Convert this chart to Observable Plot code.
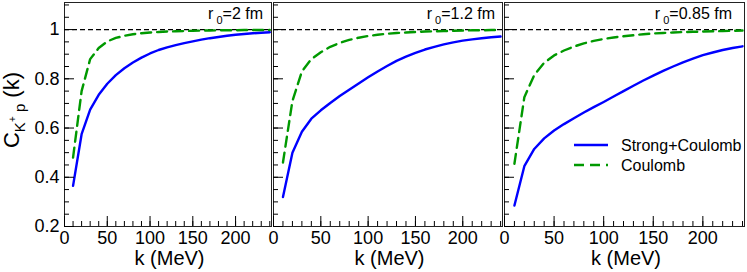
<!DOCTYPE html>
<html>
<head>
<meta charset="utf-8">
<script src="https://cdn.jsdelivr.net/npm/d3@7"></script>
<script src="https://cdn.jsdelivr.net/npm/@observablehq/plot@0.6"></script>
<style>
  body { margin: 0; background: #fff; }
  #chart { position: relative; width: 747px; height: 272px; font-family: "Liberation Sans", Arial, sans-serif; }
  #chart svg { position: absolute; top: 0; overflow: visible; background: transparent; }
</style>
</head>
<body>
<div id="chart"></div>
<script>
// ---- data ----
const k = [10,20,30,40,50,60,70,80,90,100,110,120,130,140,150,160,170,180,190,200,210,220,230,240];

const strongCoulomb_r2 = [0.365,0.575,0.675,0.735,0.78,0.815,0.843,0.866,0.886,0.903,0.917,0.928,0.937,0.945,0.952,0.959,0.965,0.97,0.975,0.979,0.982,0.985,0.987,0.989];
const coulomb_r2       = [0.48,0.75,0.88,0.925,0.952,0.966,0.975,0.981,0.985,0.988,0.99,0.992,0.993,0.994,0.995,0.996,0.996,0.997,0.997,0.997,0.998,0.998,0.998,0.998];

const strongCoulomb_r12 = [0.32,0.50,0.585,0.638,0.672,0.702,0.73,0.756,0.781,0.806,0.83,0.852,0.873,0.89,0.905,0.919,0.93,0.94,0.948,0.955,0.96,0.965,0.969,0.972];
const coulomb_r12       = [0.46,0.71,0.83,0.88,0.908,0.93,0.946,0.958,0.967,0.974,0.979,0.983,0.986,0.988,0.99,0.992,0.993,0.994,0.995,0.996,0.997,0.997,0.998,0.998];

const strongCoulomb_r085 = [0.285,0.445,0.515,0.558,0.59,0.616,0.64,0.663,0.685,0.706,0.728,0.75,0.772,0.793,0.813,0.832,0.85,0.867,0.882,0.896,0.907,0.917,0.925,0.932];
const coulomb_r085       = [0.455,0.725,0.815,0.865,0.895,0.915,0.931,0.944,0.954,0.962,0.968,0.973,0.977,0.981,0.984,0.986,0.988,0.99,0.991,0.992,0.993,0.994,0.995,0.996];

const panelLabels = ["2 fm", "1.2 fm", "0.85 fm"];
const seriesNames = ["Strong+Coulomb", "Coulomb"];

const xMajor = [0,50,100,150,200];
const xMinor = [0,10,20,30,40,50,60,70,80,90,100,110,120,130,140,150,160,170,180,190,200,210,220,230,240];
const yMajor = [0.2,0.4,0.6,0.8,1];
const yTickLabels = ["0.2","0.4","0.6","0.8","1"];
const yMinor = [0.2,0.25,0.3,0.35,0.4,0.45,0.5,0.55,0.6,0.65,0.7,0.75,0.8,0.85,0.9,0.95,1,1.05,1.1];

// ---- layout ----
const BLUE = "#0000ff", GREEN = "#009900";
const H = 272, MT = 2, MB = 46;
const layout = [
  {left: 0,   width: 272, ml: 64, mr: 1},
  {left: 272, width: 231, ml: 1,  mr: 1},
  {left: 503, width: 244, ml: 1,  mr: 3}
];
const series = [
  [strongCoulomb_r2, coulomb_r2],
  [strongCoulomb_r12, coulomb_r12],
  [strongCoulomb_r085, coulomb_r085]
];

const chart = document.getElementById("chart");

layout.forEach((L, i) => {
  const strong = k.map((kk, j) => ({k: kk, c: series[i][0][j]}));
  const coul = k.map((kk, j) => ({k: kk, c: series[i][1][j]}));
  const marks = [
    Plot.ruleY([1], {stroke: "#000", strokeWidth: 1.2, strokeDasharray: "5,3"}),
    Plot.line(strong, {x: "k", y: "c", stroke: BLUE, strokeWidth: 2.4}),
    Plot.line(coul, {x: "k", y: "c", stroke: GREEN, strokeWidth: 2.4, strokeDasharray: "10,6"}),
    Plot.frame({stroke: "#222", strokeWidth: 1}),
    Plot.axisX(xMinor, {tickSize: -5, tickFormat: () => "", label: null}),
    Plot.axisX(xMajor, {tickSize: -10, tickFormat: () => "", label: null}),
    Plot.axisX(xMajor, {tickSize: 0, tickPadding: 5, fontSize: 18, label: null}),
    Plot.axisY(yMinor, {tickSize: -5, tickFormat: () => "", label: null}),
    Plot.axisY(yMajor, {tickSize: -10, tickFormat: () => "", label: null})
  ];
  if (i === 0) {
    marks.push(Plot.axisY(yMajor, {tickSize: 0, tickPadding: 5, fontSize: 18, label: null,
      tickFormat: d => yTickLabels[yMajor.indexOf(d)]}));
  }
  const svg = Plot.plot({
    width: L.width, height: H,
    marginLeft: L.ml, marginRight: L.mr, marginTop: MT, marginBottom: MB,
    x: {domain: [0, 242]},
    y: {domain: [0.2, 1.11]},
    style: {fontFamily: '"Liberation Sans", Arial, sans-serif', color: "#000", background: "transparent", overflow: "visible"},
    marks
  });
  svg.style.left = L.left + "px";
  chart.appendChild(svg);
  const s = d3.select(svg);
  const cx = L.ml + (L.width - L.ml - L.mr) / 2;

  // x title
  s.append("text").attr("x", cx + 2).attr("y", 265).attr("text-anchor", "middle")
    .style("font-size", "20px").attr("fill", "#000").text("k (MeV)");

  // panel label r0=...
  const rEnd = [263, 495 - 272, 732 - 503][i];
  const t = s.append("text").attr("x", rEnd).attr("y", 19).attr("text-anchor", "end")
    .style("font-size", "16px").attr("fill", "#000");
  t.append("tspan").text("r");
  t.append("tspan").attr("dy", 5).style("font-size", "11px").text(" 0");
  t.append("tspan").attr("dy", -5).text("=" + panelLabels[i]);

  if (i === 0) {
    const yt = s.append("text").attr("transform", "translate(19,110) rotate(-90)")
      .attr("text-anchor", "middle").style("font-size", "22px").attr("fill", "#000");
    yt.append("tspan").text("C");
    yt.append("tspan").attr("dy", 6).style("font-size", "15px").text("K");
    yt.append("tspan").attr("dy", -9).style("font-size", "10px").text("+");
    yt.append("tspan").attr("dy", 9).style("font-size", "15px").text(" p");
    yt.append("tspan").attr("dy", -6).text(" (k)");
  }
  if (i === 2) {
    const lx = 574 - L.left;
    [[BLUE, null, 145], [GREEN, "10,6", 165]].forEach(([col, dash, yy], j) => {
      s.append("line").attr("x1", lx).attr("x2", lx + 34).attr("y1", yy).attr("y2", yy)
        .attr("stroke", col).attr("stroke-width", 2.4).attr("stroke-dasharray", dash);
      s.append("text").attr("x", 621 - L.left).attr("y", yy + 6).attr("text-anchor", "start")
        .style("font-size", "16px").attr("fill", "#000").text(seriesNames[j]);
    });
  }
});
</script>
</body>
</html>
